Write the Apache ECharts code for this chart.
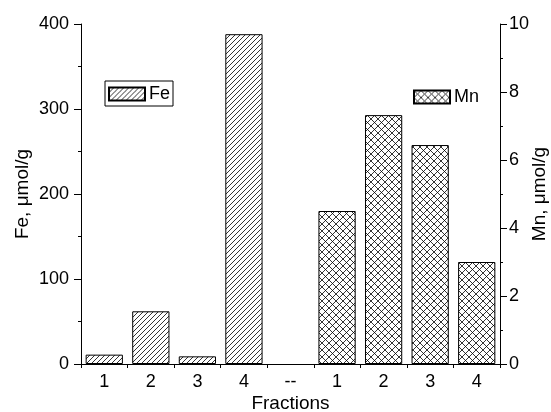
<!DOCTYPE html>
<html>
<head>
<meta charset="utf-8">
<script src="https://cdn.jsdelivr.net/npm/echarts@6/dist/echarts.min.js"></script>
<style>
html,body{margin:0;padding:0;background:#fff;}
#chart{width:551px;height:412px;}
</style>
</head>
<body>
<div id="chart"></div>
<script>
var categories = ['1', '2', '3', '4', '--', '1', '2', '3', '4'];
var feValues = [11, 62, 9, 388, '-', '-', '-', '-', '-'];
var mnValues = ['-', '-', '-', '-', '-', 4.5, 7.32, 6.44, 3.0];

// hatch patterns
function hatch(size, cross) {
	var c = document.createElement('canvas');
	c.width = size; c.height = size;
	var ctx = c.getContext('2d');
	ctx.fillStyle = '#fff';
	ctx.fillRect(0, 0, size, size);
	ctx.strokeStyle = '#000';
	ctx.lineWidth = 0.8;
	ctx.beginPath();
	ctx.moveTo(-1, size + 1); ctx.lineTo(size + 1, -1);
	ctx.moveTo(-1, 1); ctx.lineTo(1, -1);
	ctx.moveTo(size - 1, size + 1); ctx.lineTo(size + 1, size - 1);
	if (cross) {
		ctx.moveTo(-1, -1); ctx.lineTo(size + 1, size + 1);
		ctx.moveTo(size - 1, -1); ctx.lineTo(size + 1, 1);
		ctx.moveTo(-1, size - 1); ctx.lineTo(1, size + 1);
	}
	ctx.stroke();
	return c;
}

var chart = echarts.init(document.getElementById('chart'));
var font = 'Liberation Sans, Arial, sans-serif';
var option = {
	backgroundColor: '#fff',
	animation: false,
	textStyle: {fontFamily: font, color: '#000'},
	grid: {left: 81, right: 51, top: 24, bottom: 48, containLabel: false, outerBoundsMode: 'none'},
	legend: [
		{
			data: ['Fe'], left: 105, top: 81,
			borderColor: '#000', borderWidth: 1, padding: [4, 3, 3, 3],
			icon: 'rect',
			itemWidth: 36, itemHeight: 13, itemGap: 4,
			textStyle: {fontSize: 18, fontFamily: font, color: '#000', padding: [0, 0, 0, -1]}
		},
		{
			data: ['Mn'], left: 408, top: 83,
			icon: 'rect',
			itemWidth: 36, itemHeight: 13,
			textStyle: {fontSize: 18, fontFamily: font, color: '#000', padding: [0, 0, 0, -1]}
		}
	],
	xAxis: [
		{
			type: 'category',
			data: categories,
			name: 'Fractions',
			nameLocation: 'middle',
			nameGap: 30,
			nameMoveOverlap: false,
			nameTextStyle: {fontSize: 19, color: '#000'},
			axisLine: {lineStyle: {color: '#000', width: 1}},
			axisTick: {alignWithLabel: true, interval: 0, length: 6, lineStyle: {color: '#000'}},
			axisLabel: {fontSize: 18, color: '#000', margin: 9, interval: 0},
			splitLine: {show: false}
		},
		{
			type: 'category',
			data: categories,
			position: 'bottom',
			axisLine: {show: false},
			axisTick: {show: true, interval: 0, length: 4, lineStyle: {color: '#000'}},
			axisLabel: {show: false},
			splitLine: {show: false}
		}
	],
	yAxis: [
		{
			type: 'value',
			name: 'Fe, \u03bcmol/g',
			nameLocation: 'middle',
			nameGap: 49,
			nameMoveOverlap: false,
			nameTextStyle: {fontSize: 19, color: '#000'},
			min: 0, max: 400, interval: 100,
			axisLine: {show: true, lineStyle: {color: '#000'}},
			axisTick: {show: true, length: 7, lineStyle: {color: '#000'}},
			minorTick: {show: true, splitNumber: 2, length: 3, lineStyle: {color: '#000'}},
			axisLabel: {fontSize: 18, color: '#000', margin: 12},
			splitLine: {show: false}
		},
		{
			type: 'value',
			name: 'Mn, \u03bcmol/g',
			nameLocation: 'middle',
			nameGap: 30,
			nameMoveOverlap: false,
			nameTextStyle: {fontSize: 19, color: '#000'},
			min: 0, max: 10, interval: 2,
			position: 'right',
			axisLine: {show: true, lineStyle: {color: '#000'}},
			axisTick: {show: true, length: 7, lineStyle: {color: '#000'}},
			minorTick: {show: true, splitNumber: 2, length: 3, lineStyle: {color: '#000'}},
			axisLabel: {fontSize: 18, color: '#000', margin: 9},
			splitLine: {show: false}
		}
	],
	series: [
		{
			name: 'Fe',
			type: 'bar',
			yAxisIndex: 0,
			barWidth: '80%',
			barGap: '-100%',
			data: feValues,
			itemStyle: {
				color: {image: hatch(5, false), repeat: 'repeat'},
				borderColor: '#000', borderWidth: 1
			}
		},
		{
			name: 'Mn',
			type: 'bar',
			yAxisIndex: 1,
			barWidth: '80%',
			barGap: '-100%',
			data: mnValues,
			itemStyle: {
				color: {image: hatch(7, true), repeat: 'repeat'},
				borderColor: '#000', borderWidth: 1
			}
		}
	]
};
chart.setOption(option);
</script>
</body>
</html>
